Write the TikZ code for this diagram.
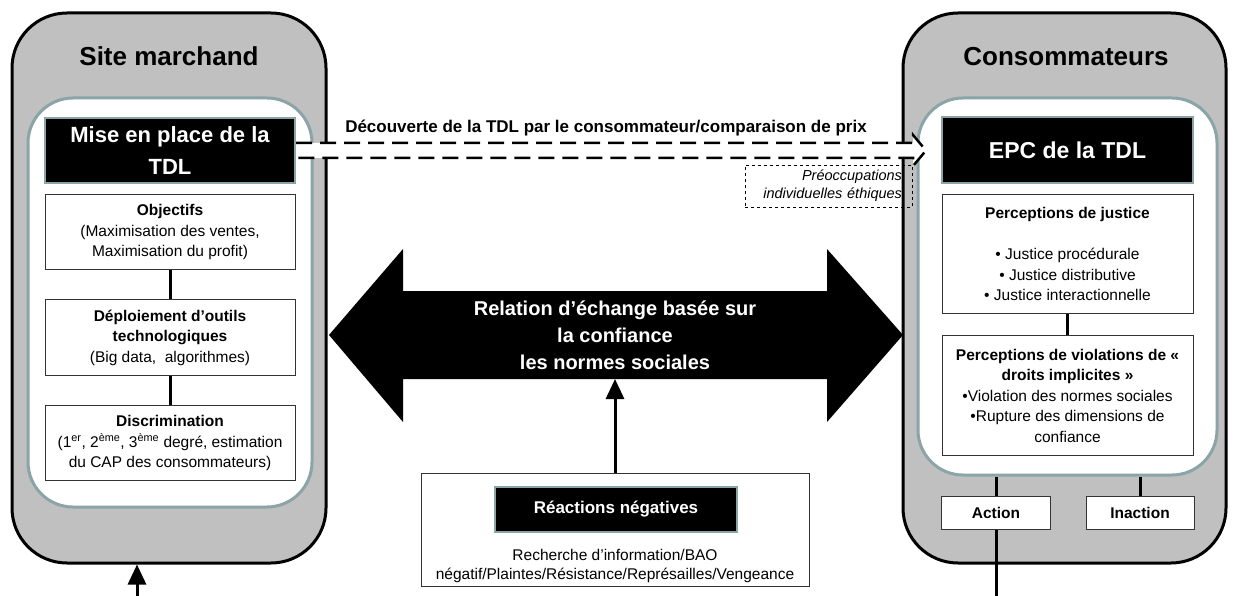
\documentclass[tikz,border=0pt]{standalone}
\usepackage{fontspec}
\setmainfont{Liberation Sans}
\usetikzlibrary{arrows,arrows.meta,shapes,positioning}
\definecolor{boxgray}{RGB}{192,192,192}
\definecolor{tealgray}{RGB}{138,164,167}

\begin{document}
\begin{tikzpicture}[x=1pt,y=1pt,semithick,
    outerbox/.style={draw=black,line width=3pt,fill=boxgray,rounded corners=55pt},
    innerbox/.style={draw=tealgray,line width=3pt,fill=white,rounded corners=45pt},
    blackbox/.style={draw=tealgray,line width=2pt,fill=black,text=white,align=center,inner sep=0pt},
    infobox/.style={draw=black!80,line width=1pt,fill=white,align=center,inner sep=0pt,
        minimum width=250pt,font=\fontsize{15.5}{20.5}\selectfont},
    link/.style={line width=3pt},
    bigtip/.style={-{Triangle[length=20pt,width=18pt]},line width=3pt},
    dasharrow/.style={line width=2.5pt,dash pattern=on 16pt off 8pt}]
        \useasboundingbox (0,0) rectangle (1234,-596);

        % containers
        \node[outerbox, minimum width=314pt, minimum height=550pt] (site) at (169,-288) {};
        \node[outerbox, minimum width=323pt, minimum height=550pt] (conso) at (1064.5,-288) {};
        \node[innerbox, minimum width=284pt, minimum height=409pt] (sitein) at (170,-302.5) {};
        \node[innerbox, minimum width=299pt, minimum height=377pt] (consoin) at (1067.5,-286.5) {};
        \node[font=\bfseries\fontsize{26}{30}\selectfont] (sitetitle) at (169,-56) {Site marchand};
        \node[font=\bfseries\fontsize{26}{30}\selectfont] (consotitle) at (1066,-57) {Consommateurs};

        % site marchand
        \node[blackbox, minimum width=250pt, minimum height=65pt,
              font=\bfseries\fontsize{22}{32}\selectfont] (mise) at (170,-150.5) {Mise en place de la\\TDL};
        \node[infobox, minimum height=75pt] (objectifs) [below=10pt of mise]
            {\textbf{Objectifs}\\(Maximisation des ventes,\\Maximisation du profit)};
        \node[infobox, minimum height=76pt] (deploiement) [below=29pt of objectifs]
            {\textbf{Déploiement d’outils}\\\textbf{technologiques}\\(Big data,~ algorithmes)};
        \node[infobox, minimum height=75pt] (discrimination) [below=29pt of deploiement]
            {\textbf{Discrimination}\\(1\textsuperscript{er}, 2\textsuperscript{ème}, 3\textsuperscript{ème} degré, estimation\\du CAP des consommateurs)};

        % consommateurs
        \node[blackbox, minimum width=251pt, minimum height=66pt,
              font=\bfseries\fontsize{23}{28}\selectfont] (epc) at (1067.5,-150) {EPC de la TDL};
        \node[infobox, minimum width=251pt, minimum height=119pt] (justice) [below=10pt of epc]
            {\textbf{Perceptions de justice}\\[21pt]• Justice procédurale\\• Justice distributive\\• Justice interactionnelle};
        \node[infobox, minimum width=251pt, minimum height=120pt] (violations) [below=21pt of justice]
            {\textbf{Perceptions de violations de «}\\\textbf{droits implicites »}\\•Violation des normes sociales\\•Rupture des dimensions de\\confiance};
        \node[infobox, minimum width=109pt, minimum height=33pt, font=\bfseries\fontsize{15.5}{20}\selectfont] (action) at (996,-512.5) {Action};
        \node[infobox, minimum width=108pt, minimum height=33pt, font=\bfseries\fontsize{15.5}{20}\selectfont] (inaction) at (1140,-512.5) {Inaction};

        % discovery of the TDL
        \fill[white] ([yshift=7.5pt]mise.east) -- ++(617,0) -- ++(0,8) -- ++(13,-15.5) -- ++(-13,-15.5) -- ++(0,8) -- ++(-617,0) -- cycle;
        \draw[dasharrow] ([yshift=7.5pt]mise.east) -- ++(617,0) -- ++(0,8) -- ++(13,-15.5) -- ++(-13,-15.5) -- ++(0,8) -- ++(-617,0);
        \node[font=\bfseries\fontsize{17}{20}\selectfont] (decouverte) at (606,-128) {Découverte de la TDL par le consommateur/comparaison de prix};
        \node[draw, dashed, line width=0.8pt, minimum width=167pt, minimum height=42pt, inner xsep=10pt,
              text width=147pt, align=right, font=\itshape\fontsize{14.5}{18}\selectfont] (ethique) at (828.5,-186)
            {Préoccupations\\individuelles éthiques};

        % exchange relation
        \fill (329,-335) -- (403,-249) -- (403,-291) -- (827,-291) -- (827,-249) -- (903,-335)
            -- (827,-422) -- (827,-379) -- (403,-379) -- (403,-422) -- cycle;
        \node[text=white, align=center, font=\bfseries\fontsize{20}{27}\selectfont] (relation) at (615,-335)
            {Relation d’échange basée sur\\la confiance\\les normes sociales};
        \coordinate (relbottom) at (615,-379);

        % negative reactions
        \node[draw=black!80, line width=1pt, fill=white, minimum width=388pt, minimum height=113pt] (reactions) at (615,-529.5) {};
        \node[blackbox, minimum width=242pt, minimum height=45pt, font=\bfseries\fontsize{17}{20}\selectfont] (reactitle) at (616,-509.5) {Réactions négatives};
        \node[align=center, font=\fontsize{15.5}{19}\selectfont] (reactext) at (615,-565.5)
            {Recherche d’information/BAO\\négatif/Plaintes/Résistance/Représailles/Vengeance};

        \coordinate (sitefoot) at (137,-596);
        \coordinate (actionfoot) at (996,-596);
        \path
        (objectifs) edge[link] (deploiement)
        (deploiement) edge[link] (discrimination)
        (justice) edge[link] (violations)
        (action.north) edge[link] (action.north |- consoin.south)
        (inaction.north) edge[link] (inaction.north |- consoin.south)
        (action.south) edge[link] (actionfoot)
        ;
        \draw[bigtip] (reactions.north) -- (relbottom);
        \draw[bigtip] (sitefoot) -- (sitefoot |- site.south);
    \end{tikzpicture}
\end{document}
